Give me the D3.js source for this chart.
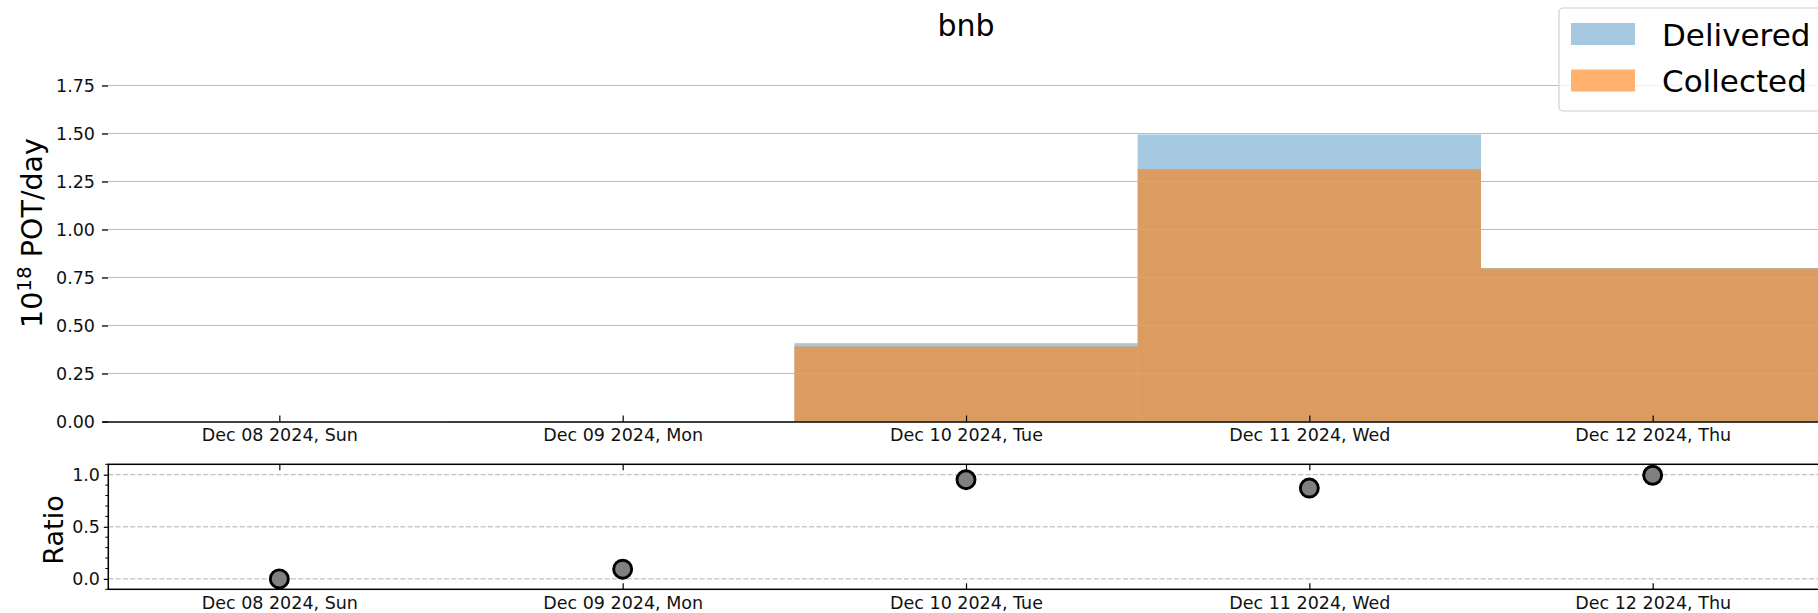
<!DOCTYPE html>
<html>
<head>
<meta charset="utf-8">
<script src="https://cdnjs.cloudflare.com/ajax/libs/d3/7.8.5/d3.min.js"></script>
<style>
  body { margin: 0; background: #fff; }
  svg { display: block; font-family: "DejaVu Sans", sans-serif; }
</style>
</head>
<body>
<script>
// data
const days = ["2024-12-08", "2024-12-09", "2024-12-10", "2024-12-11", "2024-12-12"]
const delivered = [0, 0.002, 0.408, 1.495, 0.80]
const collected = [0, 0.0002, 0.391, 1.314, 0.797]
const ratio = [0, 0.093, 0.952, 0.872, 0.995]
const topTicks = [0, 0.25, 0.5, 0.75, 1.0, 1.25, 1.5, 1.75]
const ratioTicks = [0, 0.5, 1.0]
const legendLabels = ["Delivered", "Collected"]

const svgWidth = 1818
const svgHeight = 613

const parse = d3.utcParse("%Y-%m-%d")
const dates = days.map(parse)
const halfDay = 12 * 3600 * 1000

// top panel box
const topBox = {left: 102, right: 1830, axisY: 421.5}
// ratio panel box
const botBox = {left: 108.3, right: 1836, top: 464.3, bottom: 589.3}

const blue = "#a6c9e1"
const orange = "#ffb26e"

const xScale = d3.scaleUtc()
  .domain([new Date(dates[0].getTime() - 0.5165 * 2 * halfDay), new Date(dates[4].getTime() + 0.5165 * 2 * halfDay)])
  .range([topBox.left, topBox.right])

const yScale = d3.scaleLinear()
  .domain([0, 1.75])
  .range([topBox.axisY, 85.5])

const rScale = d3.scaleLinear()
  .domain([-0.1, 1.1])
  .range([botBox.bottom, botBox.top])

const svg = d3.select("body")
  .append("svg")
  .attr("width", svgWidth)
  .attr("height", svgHeight)

// title
svg.append("text")
  .attr("x", (topBox.left + topBox.right) / 2)
  .attr("y", 36)
  .attr("text-anchor", "middle")
  .style("font-size", "30px")
  .text("bnb")

function barX(d) { return xScale(new Date(d.getTime() - halfDay)) }
function barW(d) { return xScale(new Date(d.getTime() + halfDay)) - xScale(new Date(d.getTime() - halfDay)) }

// bars
const bars = svg.append("g")
bars.selectAll("rect.delivered")
  .data(dates)
  .enter()
  .append("rect")
  .attr("class", "delivered")
  .attr("x", barX)
  .attr("width", barW)
  .attr("y", function(d, i) { return yScale(delivered[i]) })
  .attr("height", function(d, i) { return yScale(0) - yScale(delivered[i]) })
  .style("fill", "#1f77b4")
  .style("fill-opacity", 0.4)

bars.selectAll("rect.collected")
  .data(dates)
  .enter()
  .append("rect")
  .attr("class", "collected")
  .attr("x", barX)
  .attr("width", barW)
  .attr("y", function(d, i) { return yScale(collected[i]) })
  .attr("height", function(d, i) { return yScale(0) - yScale(collected[i]) })
  .style("fill", "#ff7f0e")
  .style("fill-opacity", 0.6)

// grid on top of bars
svg.append("g")
  .selectAll("line")
  .data(topTicks.slice(1))
  .enter()
  .append("line")
  .attr("x1", topBox.left)
  .attr("x2", topBox.right)
  .attr("y1", function(d) { return yScale(d) })
  .attr("y2", function(d) { return yScale(d) })
  .style("stroke", "#b0b0b0")
  .style("stroke-opacity", 0.85)
  .style("stroke-width", 1.1)

const fmtDate = d3.utcFormat("%b %d %Y, %a")

const xAxisTop = d3.axisBottom(xScale)
  .tickValues(dates)
  .tickFormat(fmtDate)
  .tickSizeInner(-6)
  .tickSizeOuter(0)
  .tickPadding(7.5)

const gx = svg.append("g")
  .attr("transform", "translate(0," + topBox.axisY + ")")
  .call(xAxisTop)
gx.select(".domain").style("stroke-width", 1.5)

const yAxis = d3.axisLeft(yScale)
  .tickValues(topTicks)
  .tickFormat(d3.format(".2f"))
  .tickSizeInner(-6)
  .tickSizeOuter(0)
  .tickPadding(7)

const gy = svg.append("g")
  .attr("transform", "translate(" + topBox.left + ",0)")
  .call(yAxis)
gy.select(".domain").remove()

// y label
svg.append("text")
  .attr("transform", "translate(42,233) rotate(-90)")
  .attr("text-anchor", "middle")
  .style("font-size", "28.5px")
  .call(function(t) {
    t.append("tspan").text("10")
    t.append("tspan").attr("dy", "-0.55em").style("font-size", "20px").text("18")
    t.append("tspan").attr("dy", "0.39em").text(" POT/day")
  })

// legend
const legend = svg.append("g")
legend.append("rect")
  .attr("x", 1559)
  .attr("y", 8)
  .attr("width", 320)
  .attr("height", 103)
  .attr("rx", 4)
  .style("fill", "#fff")
  .style("fill-opacity", 0.8)
  .style("stroke", "#d0d0d0")
  .style("stroke-width", 1.2)

legend.selectAll("rect.sw")
  .data(legendLabels)
  .enter()
  .append("rect")
  .attr("class", "sw")
  .attr("x", 1571)
  .attr("y", function(d, i) { return 23 + i * 46.5 })
  .attr("width", 64)
  .attr("height", 22)
  .style("fill", function(d, i) { return i === 0 ? blue : orange })

legend.selectAll("text")
  .data(legendLabels)
  .enter()
  .append("text")
  .attr("x", 1662)
  .attr("y", function(d, i) { return 45.5 + i * 46 })
  .style("font-size", "31px")
  .text(function(d) { return d })

// ratio panel
svg.append("g")
  .selectAll("line")
  .data(ratioTicks)
  .enter()
  .append("line")
  .attr("x1", botBox.left)
  .attr("x2", botBox.right)
  .attr("y1", function(d) { return rScale(d) })
  .attr("y2", function(d) { return rScale(d) })
  .style("stroke", "#b0b0b0")
  .style("stroke-width", 1)
  .style("stroke-dasharray", "5,2.3")

const xAxisBot = d3.axisBottom(xScale)
  .tickValues(dates)
  .tickFormat(fmtDate)
  .tickSizeInner(-6)
  .tickSizeOuter(0)
  .tickPadding(7.5)

const gxb = svg.append("g")
  .attr("transform", "translate(0," + botBox.bottom + ")")
  .call(xAxisBot)
gxb.select(".domain").remove()

const gxt = svg.append("g")
  .attr("transform", "translate(0," + botBox.top + ")")
  .call(d3.axisTop(xScale).tickValues(dates).tickFormat("").tickSizeInner(-6).tickSizeOuter(0))
gxt.select(".domain").remove()

const gr = svg.append("g")
  .attr("transform", "translate(" + botBox.left + ",0)")
  .call(d3.axisLeft(rScale).tickValues(ratioTicks).tickFormat(d3.format(".1f")).tickSizeInner(4.5).tickSizeOuter(0).tickPadding(3.8))
gr.select(".domain").remove()

// minor ticks
const minor = d3.range(-1, 12).map(function(v) { return v / 10 }).filter(function(v) { return Math.round(v * 10) % 5 !== 0 })
gr.selectAll("line.minor")
  .data(minor)
  .enter()
  .append("line")
  .attr("class", "minor")
  .attr("x1", -3)
  .attr("x2", 0)
  .attr("y1", function(d) { return rScale(d) })
  .attr("y2", function(d) { return rScale(d) })
  .style("stroke", "#000")
  .style("stroke-width", 1)

svg.selectAll(".tick text").style("font-size", "17.5px").style("font-family", "DejaVu Sans").style("fill", "#111")
svg.selectAll(".tick line").style("stroke-width", 1.2)

svg.append("rect")
  .attr("x", botBox.left)
  .attr("y", botBox.top)
  .attr("width", botBox.right - botBox.left)
  .attr("height", botBox.bottom - botBox.top)
  .style("fill", "none")
  .style("stroke", "#000")
  .style("stroke-width", 1.5)

svg.append("g")
  .selectAll("circle")
  .data(dates)
  .enter()
  .append("circle")
  .attr("cx", function(d) { return xScale(d) })
  .attr("cy", function(d, i) { return rScale(ratio[i]) })
  .attr("r", 9)
  .style("fill", "#808080")
  .style("stroke", "#000")
  .style("stroke-width", 2.9)

svg.append("text")
  .attr("transform", "translate(63,530) rotate(-90)")
  .attr("text-anchor", "middle")
  .style("font-size", "27px")
  .text("Ratio")
</script>
</body>
</html>
